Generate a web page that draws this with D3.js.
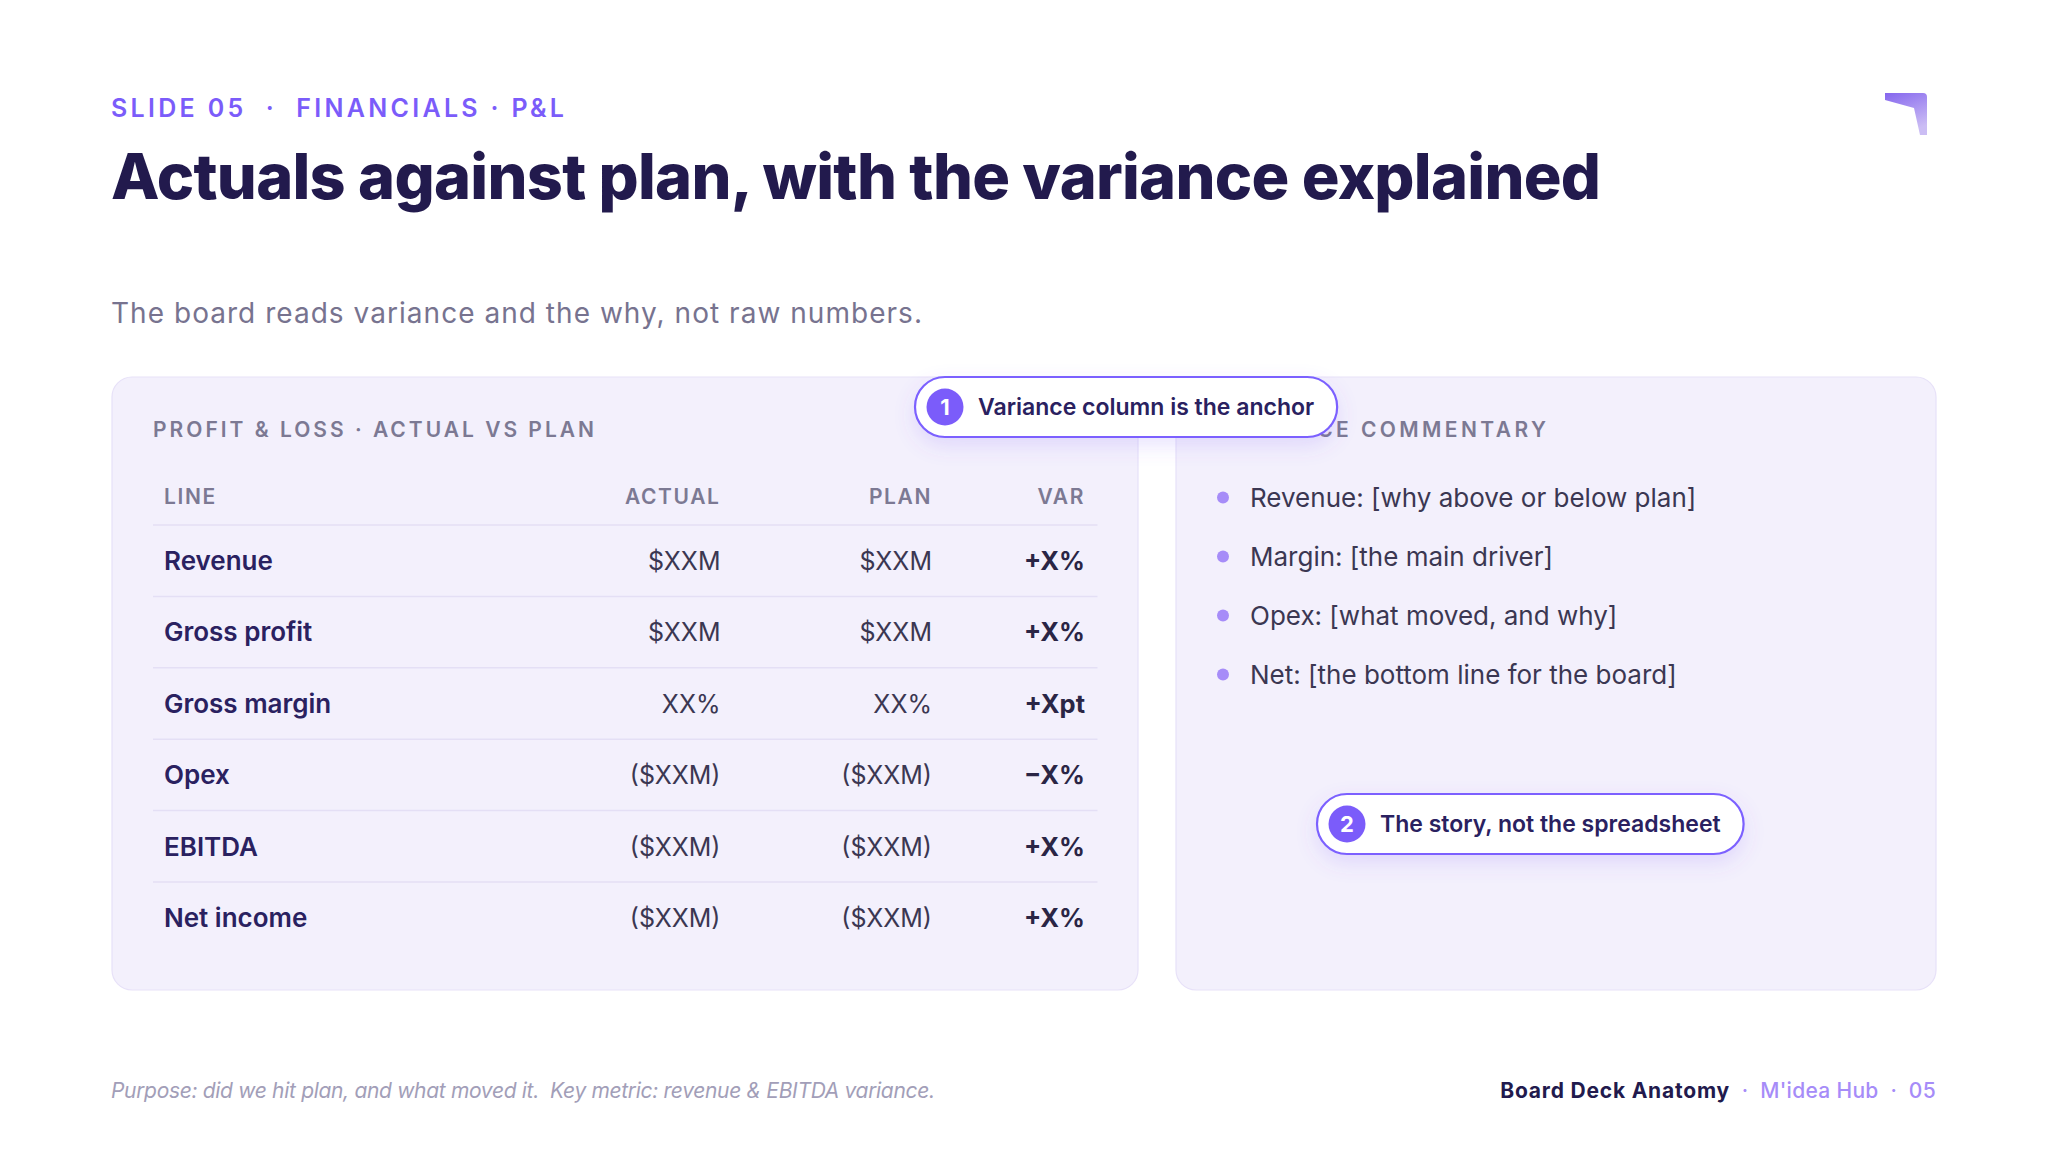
<!DOCTYPE html>
<html>
<head>
<meta charset="utf-8">
<script src="https://cdn.jsdelivr.net/npm/d3@7"></script>
<style>
  html, body { margin: 0; padding: 0; background: #ffffff; }
  svg { display: block; font-family: Inter, "Noto Sans", "DejaVu Sans", sans-serif; }
  text { white-space: pre; }
</style>
</head>
<body>
<div id="chart"></div>
<script>
// Slide text
const kicker = 'SLIDE 05  ·  FINANCIALS · P&L';
const title = 'Actuals against plan, with the variance explained';
const subtitle = 'The board reads variance and the why, not raw numbers.';
const tableHeader = 'PROFIT & LOSS · ACTUAL VS PLAN';
const commentaryHeader = 'VARIANCE COMMENTARY';

// Table data
const columns = ['LINE', 'ACTUAL', 'PLAN', 'VAR'];
const lines = ['Revenue', 'Gross profit', 'Gross margin', 'Opex', 'EBITDA', 'Net income'];
const actual = ['$XXM', '$XXM', 'XX%', '($XXM)', '($XXM)', '($XXM)'];
const plan = ['$XXM', '$XXM', 'XX%', '($XXM)', '($XXM)', '($XXM)'];
const variance = ['+X%', '+X%', '+Xpt', '−X%', '+X%', '+X%'];

// Commentary bullets
const commentary = [
  'Revenue: [why above or below plan]',
  'Margin: [the main driver]',
  'Opex: [what moved, and why]',
  'Net: [the bottom line for the board]'
];

// Callouts
const calloutNums = ['1', '2'];
const calloutTexts = ['Variance column is the anchor', 'The story, not the spreadsheet'];

// Footer
const footerNote = 'Purpose: did we hit plan, and what moved it.  Key metric: revenue & EBITDA variance.';
const footerParts = ['Board Deck Anatomy', '  ·  ', "M'idea Hub", '  ·  ', '05'];

const W = 2048, H = 1152;
const C = {
  ink: '#221a4d',
  rowInk: '#2a2160',
  body: '#3b3752',
  muted: '#7c7993',
  sub: '#77738f',
  note: '#a29eb8',
  purple: '#7b5cfa',
  lilac: '#a68cf8',
  panel: '#f3f0fc',
  panelStroke: '#e7e1f8',
  rule: '#e4dff5'
};

const svg = d3.select('#chart').append('svg')
  .attr('width', W)
  .attr('height', H)
  .attr('viewBox', `0 0 ${W} ${H}`);

const defs = svg.append('defs');
const shadow = defs.append('filter')
  .attr('id', 'pill-shadow')
  .attr('x', '-30%').attr('y', '-60%')
  .attr('width', '160%').attr('height', '260%');
shadow.append('feDropShadow')
  .attr('dx', 0).attr('dy', 8)
  .attr('stdDeviation', 10)
  .attr('flood-color', '#7b5cfa')
  .attr('flood-opacity', 0.16);

const logoGrad = defs.append('linearGradient')
  .attr('id', 'logo-grad')
  .attr('x1', '0%').attr('y1', '0%')
  .attr('x2', '40%').attr('y2', '100%');
logoGrad.append('stop').attr('offset', '0%').attr('stop-color', '#8566ee');
logoGrad.append('stop').attr('offset', '100%').attr('stop-color', '#cbbdf4');

// stretch/shrink letter spacing so a text run spans a target width
function fitWidth(sel, target) {
  const node = sel.node();
  sel.style('letter-spacing', '0px');
  const w0 = node.getComputedTextLength();
  const n = Math.max(1, node.getNumberOfChars() - 1);
  sel.style('letter-spacing', ((target - w0) / n) + 'px');
  return sel;
}

// ---- header ----
const left = 111;

fitWidth(svg.append('text')
  .attr('x', left).attr('y', 117)
  .attr('font-size', 25)
  .attr('font-weight', 600)
  .attr('fill', C.purple)
  .text(kicker), 453);

fitWidth(svg.append('text')
  .attr('x', left).attr('y', 199)
  .attr('font-size', 63)
  .attr('font-weight', 800)
  .attr('fill', C.ink)
  .text(title), 1490);

fitWidth(svg.append('text')
  .attr('x', left).attr('y', 323)
  .attr('font-size', 28)
  .attr('font-weight', 400)
  .attr('fill', C.sub)
  .text(subtitle), 811);

// logo mark, top right
svg.append('path')
  .attr('d', 'M1885,93 L1923,93 Q1927,93 1927,97 L1927,135 L1920,135 L1914,108 L1885,100 Z')
  .attr('fill', 'url(#logo-grad)');

// ---- panels ----
const panels = [
  { x: 112, y: 377, w: 1026, h: 613 },
  { x: 1176, y: 377, w: 760, h: 613 }
];
svg.selectAll('rect.panel')
  .data(panels)
  .join('rect')
  .attr('class', 'panel')
  .attr('x', d => d.x).attr('y', d => d.y)
  .attr('width', d => d.w).attr('height', d => d.h)
  .attr('rx', 20)
  .attr('fill', C.panel)
  .attr('stroke', C.panelStroke)
  .attr('stroke-width', 1.2);

// ---- table ----
const tableLeft = 153, tableRight = 1097.5;
const headerBase = 504, firstRule = 525, rowH = 71.4;

fitWidth(svg.append('text')
  .attr('x', tableLeft).attr('y', 437)
  .attr('font-size', 21)
  .attr('font-weight', 600)
  .attr('fill', C.muted)
  .text(tableHeader), 441);

const rowY = d3.scaleBand()
  .domain(lines)
  .range([firstRule, firstRule + rowH * lines.length]);

const colX = d3.scaleOrdinal()
  .domain(columns)
  .range([164, 720.5, 932, 1085]);

const colAnchor = d3.scaleOrdinal()
  .domain(columns)
  .range(['start', 'end', 'end', 'end']);

const table = svg.append('g').attr('class', 'table');

table.selectAll('text.col')
  .data(columns)
  .join('text')
  .attr('class', 'col')
  .attr('x', d => colX(d))
  .attr('y', headerBase)
  .attr('text-anchor', d => colAnchor(d))
  .attr('font-size', 21)
  .attr('font-weight', 600)
  .attr('fill', C.muted)
  .style('letter-spacing', '1.6px')
  .text(d => d);

// rule under header and between rows
table.selectAll('line.rule')
  .data(lines)
  .join('line')
  .attr('class', 'rule')
  .attr('x1', tableLeft).attr('x2', tableRight)
  .attr('y1', d => rowY(d)).attr('y2', d => rowY(d))
  .attr('stroke', C.rule)
  .attr('stroke-width', 1.5);

const rows = table.selectAll('g.row')
  .data(lines.map((name, i) => ({ name, actual: actual[i], plan: plan[i], variance: variance[i] })))
  .join('g')
  .attr('class', 'row')
  .attr('transform', d => `translate(0,${rowY(d.name) + 45})`);

rows.append('text')
  .attr('x', colX('LINE'))
  .attr('font-size', 26)
  .attr('font-weight', 600)
  .attr('fill', C.rowInk)
  .text(d => d.name);

rows.append('text')
  .attr('x', colX('ACTUAL'))
  .attr('text-anchor', 'end')
  .attr('font-size', 25)
  .attr('font-weight', 400)
  .attr('fill', C.body)
  .text(d => d.actual);

rows.append('text')
  .attr('x', colX('PLAN'))
  .attr('text-anchor', 'end')
  .attr('font-size', 25)
  .attr('font-weight', 400)
  .attr('fill', C.body)
  .text(d => d.plan);

rows.append('text')
  .attr('x', colX('VAR'))
  .attr('text-anchor', 'end')
  .attr('font-size', 25.5)
  .attr('font-weight', 700)
  .attr('fill', '#2a2545')
  .text(d => d.variance);

// ---- commentary ----
fitWidth(svg.append('text')
  .attr('x', 1217).attr('y', 437)
  .attr('font-size', 21)
  .attr('font-weight', 600)
  .attr('fill', C.muted)
  .text(commentaryHeader), 329);

const bulletY = d3.scalePoint()
  .domain(commentary)
  .range([507, 684]);

const bullets = svg.append('g').attr('class', 'commentary')
  .selectAll('g')
  .data(commentary)
  .join('g')
  .attr('transform', d => `translate(0,${bulletY(d)})`);

bullets.append('circle')
  .attr('cx', 1223)
  .attr('cy', -9.5)
  .attr('r', 6)
  .attr('fill', C.lilac);

bullets.append('text')
  .attr('x', 1250)
  .attr('font-size', 26)
  .attr('font-weight', 400)
  .attr('fill', C.body)
  .text(d => d);

// ---- callouts ----
const calloutPos = d3.scaleOrdinal()
  .domain(calloutNums)
  .range([[915, 377], [1317, 794]]);

calloutNums.forEach((num, i) => {
  const [x0, y0] = calloutPos(num);
  const pillH = 60;
  const g = svg.append('g').attr('class', 'callout');
  const pill = g.append('rect')
    .attr('x', x0).attr('y', y0)
    .attr('height', pillH)
    .attr('rx', pillH / 2)
    .attr('fill', '#ffffff')
    .attr('stroke', '#7b61ff')
    .attr('stroke-width', 2.2)
    .attr('filter', 'url(#pill-shadow)');
  g.append('circle')
    .attr('cx', x0 + 30).attr('cy', y0 + pillH / 2)
    .attr('r', 18.5)
    .attr('fill', C.purple);
  g.append('text')
    .attr('x', x0 + 30).attr('y', y0 + pillH / 2 + 8)
    .attr('text-anchor', 'middle')
    .attr('font-size', 22)
    .attr('font-weight', 700)
    .attr('fill', '#ffffff')
    .text(num);
  const label = g.append('text')
    .attr('x', x0 + 63).attr('y', y0 + 38)
    .attr('font-size', 23)
    .attr('font-weight', 600)
    .attr('fill', C.rowInk)
    .text(calloutTexts[i]);
  const tw = label.node().getComputedTextLength();
  pill.attr('width', 63 + tw + 23);
});

// ---- footer ----
fitWidth(svg.append('text')
  .attr('x', left).attr('y', 1098)
  .attr('font-size', 21)
  .attr('font-style', 'italic')
  .attr('fill', C.note)
  .text(footerNote), 824);

const footRight = svg.append('text')
  .attr('x', 1936).attr('y', 1098)
  .attr('text-anchor', 'end')
  .attr('font-size', 21);

footRight.selectAll('tspan')
  .data(footerParts)
  .join('tspan')
  .attr('font-weight', (d, i) => i === 0 ? 700 : 500)
  .attr('fill', (d, i) => i === 0 ? C.ink : C.lilac)
  .style('letter-spacing', (d, i) => i === 0 ? '0.8px' : '0.3px')
  .text(d => d);
</script>
</body>
</html>
